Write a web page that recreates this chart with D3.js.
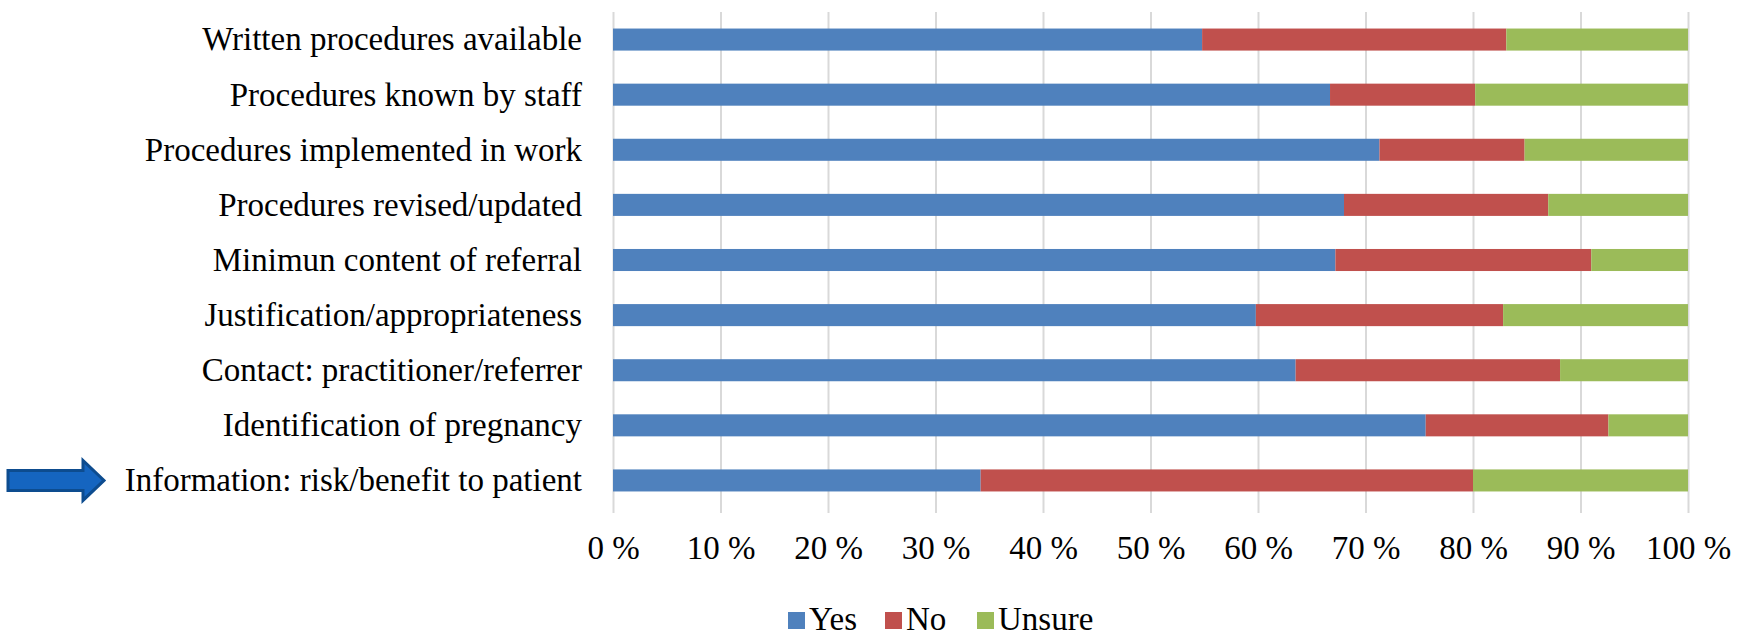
<!DOCTYPE html>
<html>
<head>
<meta charset="utf-8">
<script src="https://cdn.jsdelivr.net/npm/d3@7.9.0/dist/d3.min.js"></script>
<style>
  body { margin: 0; background: #fff; }
  svg text { font-family: "Liberation Serif", "Times New Roman", serif; fill: #000; }
</style>
</head>
<body>
<svg id="chart" width="1739" height="641"></svg>
<script>
// categories, top to bottom
const categories = [
    'Written procedures available',
    'Procedures known by staff',
    'Procedures implemented in work',
    'Procedures revised/updated',
    'Minimun content of referral',
    'Justification/appropriateness',
    'Contact: practitioner/referrer',
    'Identification of pregnancy',
    'Information: risk/benefit to patient'
];
// percent of answers
const yesValues = [54.8, 66.7, 71.3, 68.0, 67.2, 59.8, 63.5, 75.6, 34.2];
const noValues = [28.3, 13.5, 13.5, 19.0, 23.8, 23.0, 24.6, 17.0, 45.8];
const unsureValues = [16.9, 19.8, 15.2, 13.0, 9.0, 17.2, 11.9, 7.4, 20.0];
const seriesNames = ['Yes', 'No', 'Unsure'];
const seriesColors = ['#4f81bd', '#c0504d', '#9bbb59'];
const tickValues = [0, 10, 20, 30, 40, 50, 60, 70, 80, 90, 100];
const highlighted = 'Information: risk/benefit to patient';

const rows = categories.map((c, i) => ({
    category: c,
    Yes: yesValues[i],
    No: noValues[i],
    Unsure: unsureValues[i]
}));

const svg = d3.select('#chart');
const plotLeft = 613, plotRight = 1688, plotTop = 12, plotBottom = 508;
const gridBottom = 513;
const fontSize = '33px';

let x = d3.scaleLinear().domain([0, 100]).range([plotLeft, plotRight]);
let y = d3.scaleBand().domain(categories).range([plotTop, plotBottom])
    .paddingInner(0.6).paddingOuter(0.3);
let colors = d3.scaleOrdinal().domain(seriesNames).range(seriesColors);

// gridlines + tick labels
const xAxis = svg.append('g')
    .attr('transform', `translate(0,${gridBottom})`)
    .call(d3.axisBottom(x).tickValues(tickValues)
        .tickSize(-(gridBottom - plotTop))
        .tickPadding(0)
        .tickFormat((d) => `${d} %`));
xAxis.select('.domain').remove();
xAxis.selectAll('.tick line').attr('stroke', '#d9d9d9').attr('stroke-width', 2);
xAxis.selectAll('.tick text')
    .attr('y', 46)
    .attr('dy', 0)
    .style('font-size', fontSize);

// stacked bars
let stacked = d3.stack().keys(seriesNames)(rows);
svg.append('g').selectAll('g')
    .data(stacked)
    .join('g')
    .attr('fill', (d) => colors(d.key))
    .selectAll('rect')
    .data((d) => d)
    .join('rect')
    .attr('x', (d) => x(d[0]))
    .attr('y', (d) => y(d.data.category))
    .attr('width', (d) => x(d[1]) - x(d[0]))
    .attr('height', y.bandwidth());

// category labels
const yAxis = svg.append('g')
    .attr('transform', `translate(${plotLeft - 31},0)`)
    .call(d3.axisLeft(y).tickSize(0).tickPadding(0));
yAxis.select('.domain').remove();
yAxis.selectAll('.tick text')
    .style('font-size', fontSize)
    .attr('dy', '0.33em');

// arrow pointing at the highlighted row
const ay = y(highlighted) + y.bandwidth() / 2;
const arrow = d3.path();
arrow.moveTo(8, ay - 10);
arrow.lineTo(83, ay - 10);
arrow.lineTo(83, ay - 20);
arrow.lineTo(104, ay);
arrow.lineTo(83, ay + 20);
arrow.lineTo(83, ay + 10);
arrow.lineTo(8, ay + 10);
arrow.closePath();
svg.append('path')
    .attr('d', arrow.toString())
    .attr('fill', '#1565c0')
    .attr('stroke', '#0d4c8f')
    .attr('stroke-width', 3);

// legend
const legendX = [788, 885, 977];
const legend = svg.append('g');
seriesNames.forEach((name, i) => {
    legend.append('rect')
        .attr('x', legendX[i])
        .attr('y', 612)
        .attr('width', 17)
        .attr('height', 17)
        .attr('fill', colors(name));
    legend.append('text')
        .attr('x', legendX[i] + 21)
        .attr('y', 630)
        .style('font-size', fontSize)
        .text(name);
});
</script>
</body>
</html>
